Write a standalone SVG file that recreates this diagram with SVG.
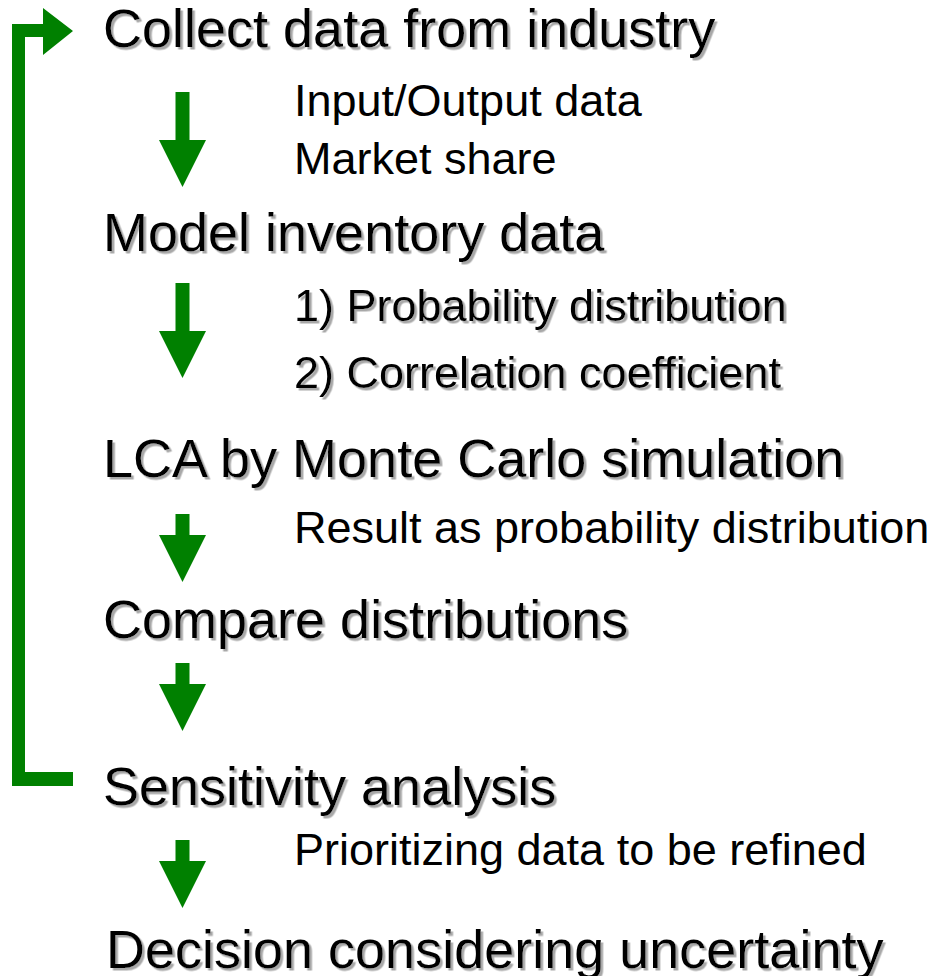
<svg xmlns="http://www.w3.org/2000/svg" width="937" height="976" viewBox="0 0 937 976">
<defs>
<filter id="shadow" x="-5%" y="-20%" width="110%" height="150%">
<feDropShadow dx="2.5" dy="2.5" stdDeviation="0.6" flood-color="#a8a8a8" flood-opacity="1"/>
</filter>
<style>
.h{font-family:"Liberation Sans",Arial,sans-serif;font-size:54px;fill:#000;filter:url(#shadow)}
.s{font-family:"Liberation Sans",Arial,sans-serif;font-size:45px;fill:#000}
.ss{filter:url(#shadow)}
.g{fill:#008000}
</style>
</defs>
<rect width="937" height="976" fill="#fff"/>
<g id="connectors">
<path class="g" d="M12,786 L12,24 L43,24 L43,8 L73,31 L43,55 L43,37 L25,37 L25,772 L73,772 L73,786 Z"/>
<path class="g" d="M175.5,92 L189.5,92 L189.5,140 L206,140 L182.5,187 L159,140 L175.5,140 Z"/>
<path class="g" d="M175.5,283 L189.5,283 L189.5,331 L206,331 L182.5,378 L159,331 L175.5,331 Z"/>
<path class="g" d="M175.5,514 L189.5,514 L189.5,535 L206,535 L182.5,582 L159,535 L175.5,535 Z"/>
<path class="g" d="M175.5,663 L189.5,663 L189.5,684 L206,684 L182.5,731 L159,684 L175.5,684 Z"/>
<path class="g" d="M175.5,840 L189.5,840 L189.5,861 L206,861 L182.5,908 L159,861 L175.5,861 Z"/>
</g>
<g id="collect"><text class="h" x="103" y="47">Collect data from industry</text></g>
<g id="collect-notes"><text class="s" x="294" y="116">Input/Output data</text><text class="s" x="294" y="174">Market share</text></g>
<g id="model"><text class="h" x="103" y="251">Model inventory data</text></g>
<g id="model-notes"><text class="s ss" x="294" y="321">1) Probability distribution</text><text class="s ss" x="294" y="388">2) Correlation coefficient</text></g>
<g id="lca"><text class="h" x="103" y="477">LCA by Monte Carlo simulation</text></g>
<g id="lca-notes"><text class="s" x="294" y="543">Result as probability distribution</text></g>
<g id="compare"><text class="h" x="103" y="638">Compare distributions</text></g>
<g id="sensitivity"><text class="h" x="103" y="805">Sensitivity analysis</text></g>
<g id="sensitivity-notes"><text class="s" x="294" y="865">Prioritizing data to be refined</text></g>
<g id="decision"><text class="h" x="106" y="968">Decision considering uncertainty</text></g>
</svg>
